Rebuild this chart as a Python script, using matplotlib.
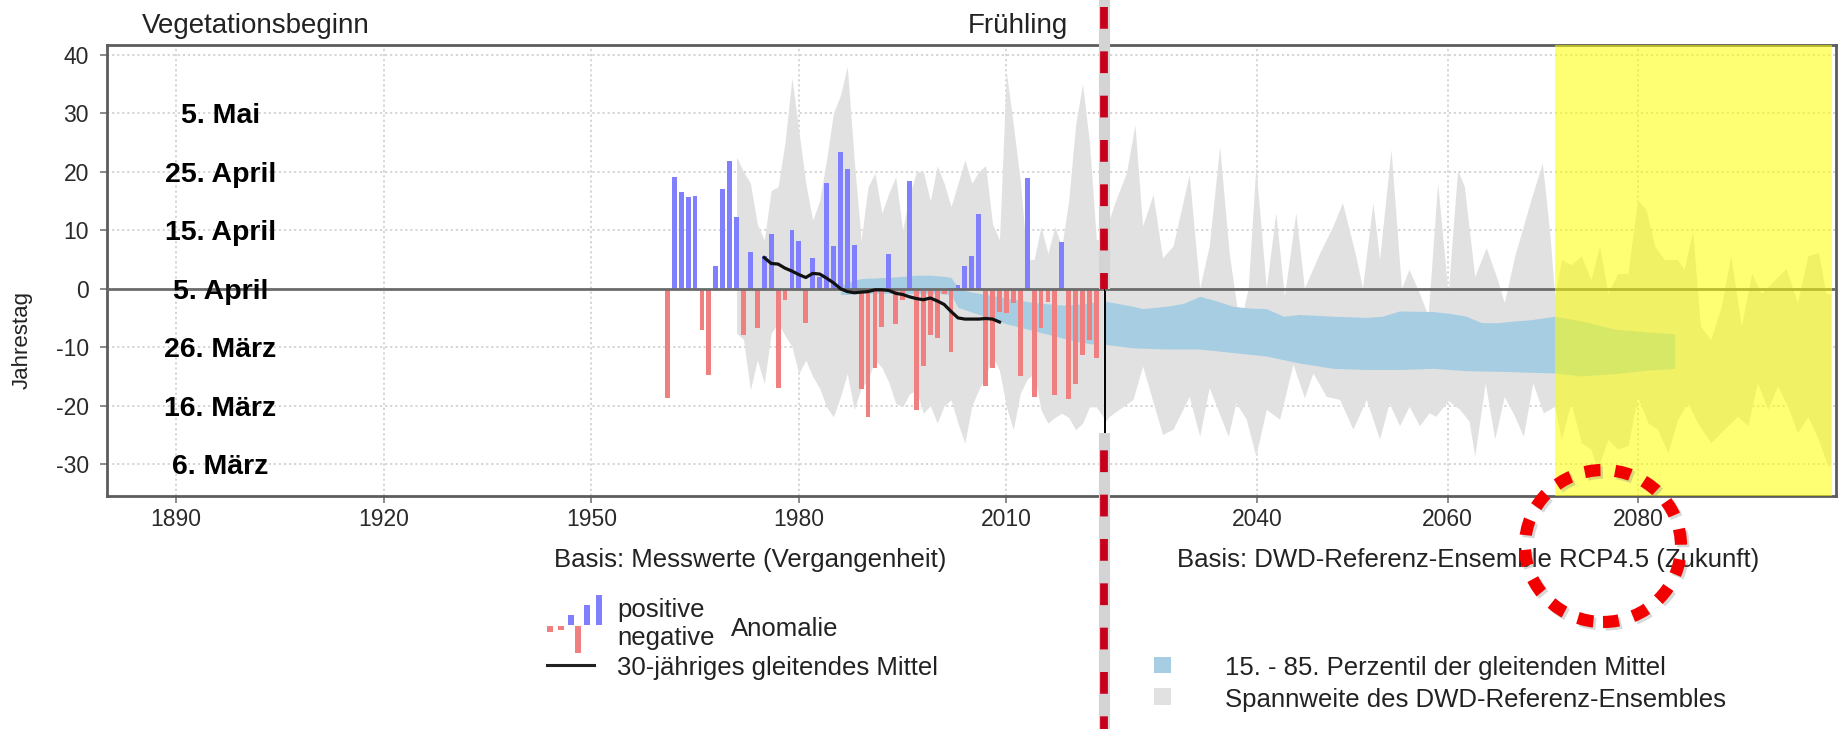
import numpy as np
import matplotlib
matplotlib.use("Agg")
import matplotlib.pyplot as plt
from matplotlib.lines import Line2D
from matplotlib.patches import Ellipse, Rectangle
from matplotlib.path import Path

plt.rcParams['font.family'] = ['Liberation Sans', 'DejaVu Sans']
plt.rcParams['axes.unicode_minus'] = False

W, H = 1841, 729

# ---------------- data ----------------
jahre_mess = np.arange(1961, 2024)
anomalie = [-18.7, 19.0, 16.5, 15.6, 15.9, -7.0, -14.8, 3.8, 17.1, 21.8,
            12.2, -7.9, 6.2, -6.7, 5.6, 9.3, -16.9, -1.9, 10.0, 8.1,
            -5.8, 5.3, 2.0, 18.1, 7.3, 23.4, 20.4, 7.4, -17.2, -21.9,
            -13.6, -6.5, 5.9, -6.0, -2.0, 18.4, -20.7, -13.3, -7.9, -8.5,
            -1.0, -10.8, 0.6, 3.8, 5.6, 12.7, -16.6, -13.5, -4.0, -4.2,
            -2.4, -15.0, 18.9, -18.5, -6.8, -2.2, -18.2, 8.0, -18.9, -16.3,
            -11.3, -8.8, -11.9]

jahre_mittel = np.arange(1975, 2010)
mittel_30 = [5.3, 4.3, 4.2, 3.5, 3.0, 2.4, 1.9, 2.6, 2.5, 1.8,
             1.0, 0.0, -0.5, -0.7, -0.6, -0.5, -0.2, -0.2, -0.3, -0.8,
             -1.0, -1.4, -1.7, -1.9, -1.6, -2.1, -2.7, -3.9, -5.0, -5.2,
             -5.2, -5.2, -5.1, -5.2, -5.7]

# ensemble spread, past part (yearly)
jahre_ens_alt = np.arange(1971, 2025)
ens_alt_max = [22.5, 20.0, 18.0, 11.0, 8.3, 16.8, 17.4, 25.0, 36.0, 27.0,
               18.0, 11.7, 15.0, 22.0, 30.0, 33.0, 38.0, 22.0, 8.3, 17.4,
               19.7, 12.9, 16.3, 19.1, 10.0, 16.0, 20.0, 20.0, 15.0, 21.0,
               18.0, 14.0, 18.0, 22.0, 18.0, 20.0, 21.0, 11.0, 8.3, 37.0,
               28.0, 18.5, 5.0, 5.0, 10.6, 6.0, 10.6, 7.2, 15.0, 28.0,
               35.0, 25.0, 8.3, 9.0]
ens_alt_min = [-7.6, -8.7, -17.3, -12.2, -16.2, -7.6, -5.9, -8.0, -9.9, -14.5,
               -12.2, -15.0, -17.0, -20.2, -21.9, -18.5, -14.5, -20.7, -17.0, -15.6,
               -12.2, -13.5, -16.0, -19.6, -20.2, -18.0, -17.3, -21.3, -20.0, -23.0,
               -20.0, -19.0, -23.0, -26.4, -20.0, -17.3, -15.0, -11.6, -14.0, -20.2,
               -24.1, -17.9, -15.5, -14.5, -20.7, -23.0, -22.0, -21.3, -22.0, -24.1,
               -23.0, -20.2, -20.2, -22.0]

# 15.-85. percentile of moving means, past part
jahre_perz_alt = np.arange(1986, 2024)
perz_alt_hi = [0.5, 1.0, 1.4, 1.7, 1.8, 1.8, 1.9, 1.9, 2.0, 2.1,
               2.2, 2.3, 2.3, 2.3, 2.2, 2.1, 1.9, 0.2, -0.3, -0.6,
               -0.8, -1.0, -1.2, -1.4, -1.6, -1.8, -2.0, -2.2, -2.4, -2.5,
               -2.6, -2.7, -2.8, -2.8, -2.7, -2.6, -2.4, -2.3]
perz_alt_lo = [-1.0, -1.0, -0.9, -0.8, -0.8, -0.8, -0.8, -0.8, -0.8, -0.8,
               -0.8, -0.8, -0.8, -0.8, -0.8, -0.9, -1.0, -3.2, -3.6, -4.0,
               -4.4, -4.8, -5.2, -5.6, -6.0, -6.3, -6.6, -6.9, -7.2, -7.5,
               -7.8, -8.1, -8.4, -8.7, -9.0, -9.2, -9.4, -9.5]

# ensemble spread, future part (upper and lower edge read at own positions)
ens_neu_max_x = [2024.0, 2025.2, 2026.3, 2027.2, 2028.0, 2029.1, 2030.1, 2031.2, 2032.9, 2034.0,
                 2035.0, 2036.1, 2037.1, 2038.2, 2039.1, 2039.9, 2041.0, 2042.0, 2042.9, 2044.1,
                 2045.0, 2046.6, 2048.0, 2049.0, 2050.4, 2051.1, 2052.2, 2052.9, 2054.1, 2055.2,
                 2056.0, 2057.1, 2058.0, 2059.0, 2060.1, 2061.1, 2061.8, 2062.9, 2064.1, 2065.3,
                 2066.0, 2067.1, 2068.8, 2070.0, 2070.8, 2071.3, 2072.0, 2073.0, 2074.1, 2075.1,
                 2076.0, 2076.9, 2077.9, 2079.0, 2080.0, 2080.9, 2081.8, 2082.8, 2084.2, 2084.9,
                 2085.8, 2086.6, 2087.7, 2088.8, 2089.8, 2090.9, 2092.0, 2093.0, 2094.4, 2095.6,
                 2096.8, 2097.9, 2099.0, 2099.8, 2100.3]
ens_neu_max = [9.4, 15.1, 19.7, 27.9, 10.6, 16.0, 5.2, 7.2, 19.4, 0.0,
               7.2, 24.2, 6.0, -6.5, 0.0, 20.8, 0.0, 12.9, -1.4, 12.9,
               0.0, 6.0, 10.6, 14.6, 5.5, 0.0, 14.6, 4.9, 23.7, 0.0,
               3.2, -0.9, -4.7, 18.0, -0.9, 20.2, 17.4, 2.0, 6.9, 1.4,
               -2.5, 5.5, 15.1, 21.4, 9.1, -1.4, 4.9, 4.0, 5.5, 1.4,
               7.2, -0.9, 2.5, 2.5, 15.1, 13.4, 7.2, 4.9, 4.9, 3.2,
               9.7, -6.5, -8.8, -3.1, 5.5, -6.5, 2.5, -0.9, 1.4, 3.4,
               -2.5, 5.5, 6.1, -0.9, -1.0]
ens_neu_min_x = [2024.0, 2024.5, 2027.0, 2028.0, 2030.1, 2031.2, 2032.9, 2034.0, 2035.0, 2037.0,
                 2037.8, 2038.9, 2039.9, 2041.0, 2042.4, 2043.8, 2045.0, 2045.9, 2047.3, 2048.7,
                 2050.1, 2051.5, 2052.9, 2053.9, 2055.0, 2056.0, 2057.1, 2058.1, 2058.8, 2060.1,
                 2061.3, 2062.3, 2062.9, 2064.0, 2065.0, 2066.0, 2067.1, 2068.0, 2069.0, 2070.1,
                 2071.3, 2072.0, 2073.0, 2074.1, 2075.1, 2075.8, 2076.9, 2077.9, 2079.0, 2080.0,
                 2081.1, 2082.1, 2083.2, 2084.2, 2085.3, 2086.3, 2087.7, 2089.1, 2090.5, 2091.6,
                 2092.6, 2093.7, 2094.7, 2095.8, 2096.8, 2097.9, 2099.0, 2100.0, 2100.3]
ens_neu_min = [-23.0, -21.9, -19.0, -13.3, -25.0, -24.1, -18.5, -25.3, -17.0, -25.3,
               -19.6, -22.4, -28.7, -20.7, -22.4, -13.0, -18.7, -14.5, -18.5, -19.0,
               -24.1, -19.0, -25.8, -19.6, -23.5, -20.2, -23.5, -21.3, -21.9, -19.2,
               -20.7, -22.7, -28.7, -16.2, -25.8, -18.5, -21.9, -25.3, -16.2, -21.3,
               -20.2, -25.8, -19.6, -26.4, -27.5, -31.0, -25.8, -27.5, -26.9, -18.5,
               -23.0, -24.1, -28.1, -22.4, -19.6, -23.0, -26.4, -24.1, -21.9, -23.5,
               -16.2, -20.7, -16.7, -20.2, -24.7, -21.9, -25.8, -30.5, -30.0]

# percentile band, future part
perz_neu_hi_x = [2024.0, 2027.0, 2028.0, 2030.5, 2032.3, 2034.0, 2035.8, 2037.5, 2039.2, 2041.0,
                 2042.8, 2044.5, 2048.0, 2051.5, 2053.2, 2055.0, 2058.5, 2060.2, 2062.0, 2063.6,
                 2065.3, 2067.1, 2068.8, 2071.3, 2074.1, 2077.6, 2081.1, 2083.9]
perz_neu_hi = [-2.2, -3.1, -3.5, -3.1, -2.6, -1.4, -2.2, -3.1, -3.4, -3.5,
               -4.8, -4.5, -4.8, -5.0, -4.8, -3.9, -4.0, -4.3, -4.8, -5.9,
               -5.9, -5.6, -5.4, -4.8, -5.6, -7.0, -7.5, -7.8]
perz_neu_lo_x = [2024.0, 2027.0, 2030.5, 2034.0, 2037.5, 2041.0, 2044.5, 2048.0, 2051.5, 2055.0,
                 2058.5, 2062.0, 2065.3, 2071.3, 2074.1, 2077.6, 2081.1, 2083.9]
perz_neu_lo = [-9.6, -10.2, -10.4, -10.4, -11.0, -11.6, -12.8, -13.7, -13.9, -13.9,
               -13.7, -14.1, -14.2, -14.5, -15.0, -14.6, -14.0, -13.7]

ticks_alt = [1890, 1920, 1950, 1980, 2010]
ticks_neu = [2040, 2060, 2080]
ticks_y = [-30, -20, -10, 0, 10, 20, 30, 40]
datum_werte = [30, 20, 10, 0, -10, -20, -30]
datum_texte = ['5. Mai', '25. April', '15. April', '5. April', '26. März', '16. März', '6. März']
zeitraum_gelb = (2071.3, 2100.4)

# ---------------- styles ----------------
BLAU_BAR = '#8080ff'
ROT_BAR = '#f08080'
GRAU = '#e1e1e1'
HELLBLAU = '#a6cde2'
RAHMEN = '#5c5c5c'


def fx(px):
    return px / W


def fy(py):
    return 1 - py / H


fig = plt.figure(figsize=(W / 100, H / 100), dpi=100)
fig.patch.set_facecolor('white')

top, bottom = 44.6, 496.4
ax1 = fig.add_axes([fx(107), fy(bottom), fx(1105) - fx(107), fy(top) - fy(bottom)])
ax2 = fig.add_axes([fx(1105), fy(bottom), fx(1836) - fx(1105), fy(top) - fy(bottom)], sharey=ax1)

for ax in (ax1, ax2):
    ax.set_ylim(-35.5, 41.7)
    ax.grid(True, ls=(0, (1.2, 1.6)), color='#d2d2d2', lw=1.3)
    ax.set_axisbelow(True)
    ax.axhline(0, color='#6b6b6b', lw=2.0, zorder=4)
    for s in ax.spines.values():
        s.set_color(RAHMEN)
        s.set_linewidth(2.0)
    ax.tick_params(direction='out', length=5, width=1.2, color='#777777',
                   labelsize=16.5, labelcolor='#2a2a2a')
    ax.tick_params(axis='x', pad=3)
    ax.tick_params(axis='y', pad=8)

ax1.set_xlim(1880.0, 2024.25)
ax2.set_xlim(2024.0, 2100.8)
ax1.set_xticks(ticks_alt)
ax2.set_xticks(ticks_neu)
ax1.set_yticks(ticks_y)
ax2.tick_params(axis='y', left=False, labelleft=False)
ax1.spines['right'].set_visible(False)
ax2.spines['left'].set_color('black')
ax2.spines['left'].set_linewidth(1.4)

# past panel
ax1.fill_between(jahre_ens_alt, ens_alt_min, ens_alt_max, color=GRAU, lw=0, zorder=1)
ax1.fill_between(jahre_perz_alt, perz_alt_lo, perz_alt_hi, color=HELLBLAU, lw=0, zorder=2)
farben = [BLAU_BAR if v > 0 else ROT_BAR for v in anomalie]
ax1.bar(jahre_mess, anomalie, width=0.7, color=farben, lw=0, zorder=3)
ax1.plot(jahre_mittel, mittel_30, color='#111111', lw=2.3, zorder=5)

for v, t in zip(datum_werte, datum_texte):
    ax1.text(1896.4, v, t, fontsize=20.5, fontweight='bold', color='black',
             ha='center', va='center_baseline', zorder=7)

# future panel
ax2.fill(list(ens_neu_max_x) + list(ens_neu_min_x[::-1]),
         list(ens_neu_max) + list(ens_neu_min[::-1]), color=GRAU, lw=0, zorder=1)
ax2.fill(list(perz_neu_hi_x) + list(perz_neu_lo_x[::-1]),
         list(perz_neu_hi) + list(perz_neu_lo[::-1]), color=HELLBLAU, lw=0, zorder=2)
ax2.axvspan(*zeitraum_gelb, color='#ffff00', alpha=0.55, lw=0, zorder=6)

# red dashed marker line: hidden between the zero line and the lower edge of the spread
xl = fx(1104)
y_null = ax1.transData.transform((2020, 0))[1] / H
y_unten = ax1.transData.transform((2020, ens_neu_min[0] - 1.7))[1] / H
clip = Path.make_compound_path(
    Path([(0, 1), (1, 1), (1, y_null), (0, y_null), (0, 1)], closed=True),
    Path([(0, y_unten), (1, y_unten), (1, 0), (0, 0), (0, y_unten)], closed=True))
halo = Line2D([xl, xl], [0, 1], transform=fig.transFigure, color='#d4d4d4', lw=8.0, zorder=8)
strich = Line2D([xl, xl], [fy(7), 0], transform=fig.transFigure, color='#c8001e',
                lw=5.6, linestyle=(0, (2.8, 2.9)), solid_capstyle='butt', zorder=9)
for art in (halo, strich):
    art.set_clip_path(clip, fig.transFigure)
    fig.add_artist(art)

# red dotted circle with a soft shadow
for dx, dy, col, a in [(2.5, 2.5, '#808080', 0.3), (0, 0, '#f20000', 1.0)]:
    fig.add_artist(Ellipse((fx(1603 + dx), fy(546 + dy)), 2 * 78 / W, 2 * 76 / H,
                           transform=fig.transFigure, fill=False, edgecolor=col,
                           alpha=a, lw=8.8, linestyle=(0, (1.3, 1.2)), zorder=10))

# titles and axis texts
fig.text(fx(142), fy(23), 'Vegetationsbeginn', fontsize=20, color='#222222',
         ha='left', va='center_baseline')
fig.text(fx(1068), fy(23), 'Frühling', fontsize=20, color='#222222',
         ha='right', va='center_baseline')
fig.text(fx(22), fy(340), 'Jahrestag', fontsize=16, color='#222222', rotation=90,
         ha='center', va='center')
fig.text(fx(750), fy(558), 'Basis: Messwerte (Vergangenheit)', fontsize=18.5,
         color='#222222', ha='center', va='center_baseline')
fig.text(fx(1468), fy(558), 'Basis: DWD-Referenz-Ensemble RCP4.5 (Zukunft)', fontsize=18.5,
         color='#222222', ha='center', va='center_baseline')

# legend
for x0, y1 in [(547, 632), (558, 630), (575, 653)]:
    fig.add_artist(Rectangle((fx(x0), fy(y1)), 6 / W, (y1 - 626) / H,
                             transform=fig.transFigure, color=ROT_BAR, lw=0))
for x0, y1 in [(568, 615), (584, 605), (596, 595)]:
    fig.add_artist(Rectangle((fx(x0), fy(625)), 6 / W, (625 - y1) / H,
                             transform=fig.transFigure, color=BLAU_BAR, lw=0))
fig.add_artist(Line2D([fx(547), fx(594)], [fy(665), fy(665)], transform=fig.transFigure,
                      color='#222222', lw=2.2))
fig.add_artist(Rectangle((fx(1154), fy(673)), 17 / W, 16 / H, transform=fig.transFigure,
                         color=HELLBLAU, lw=0))
fig.add_artist(Rectangle((fx(1154), fy(705)), 17 / W, 17 / H, transform=fig.transFigure,
                         color=GRAU, lw=0))

leg_kw = dict(fontsize=18.5, color='#222222', ha='left', va='center_baseline')
fig.text(fx(617), fy(608), 'positive', **leg_kw)
fig.text(fx(617), fy(635), 'negative', **leg_kw)
fig.text(fx(731), fy(627), 'Anomalie', **leg_kw)
fig.text(fx(617), fy(665), '30-jähriges gleitendes Mittel', **leg_kw)
fig.text(fx(1225), fy(665), '15. - 85. Perzentil der gleitenden Mittel', **leg_kw)
fig.text(fx(1225), fy(697), 'Spannweite des DWD-Referenz-Ensembles', **leg_kw)

fig.savefig('out.png', dpi=100, facecolor='white')
